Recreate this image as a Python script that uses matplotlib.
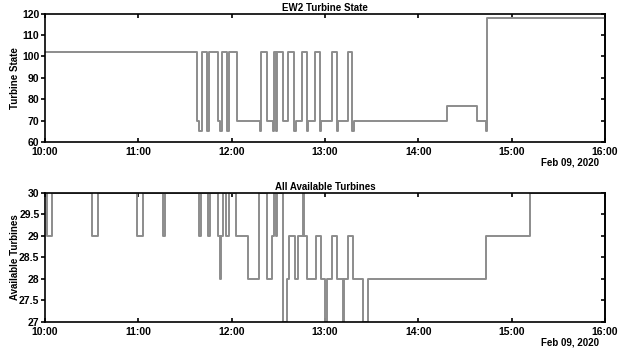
import numpy as np
import pandas as pd
import matplotlib
matplotlib.use('Agg')
import matplotlib.pyplot as plt
import matplotlib.dates as mdates

plt.rcParams['font.family'] = ['Liberation Sans', 'DejaVu Sans']
plt.rcParams['font.weight'] = 'bold'

# minutes after 10:00 on Feb 09, 2020 where the value changes
state_min = [0, 97.9, 99.0, 101.2, 104.0, 105.7, 111.3, 112.2, 113.6, 116.9,
             118.5, 123.7, 138.3, 138.9, 142.6, 146.6, 147.3, 148.6, 149.2,
             153.3, 156.5, 160.3, 161.1, 165.5, 168.3, 169.1, 173.6, 176.9,
             177.7, 184.6, 187.6, 188.4, 194.9, 197.6, 198.4, 258.3, 277.6,
             283.4, 283.9, 360]
state_val = [102, 70, 65, 102, 65, 102, 70, 65, 102, 65,
             102, 70, 65, 102, 70, 65, 102, 65, 102,
             70, 102, 65, 70, 102, 65, 70, 102, 65,
             70, 102, 65, 70, 102, 65, 70, 77, 70,
             65, 118, 118]

avail_min = [0, 1.1, 4.3, 30.0, 33.9, 59.4, 62.8, 76.1, 77.2, 99.2, 100.1,
             104.8, 105.9, 111.4, 112.2, 112.9, 114.7, 116.4, 118.5, 122.8,
             130.4, 137.8, 142.6, 145.8, 147.3, 148.2, 149.0, 152.9, 155.4,
             157.1, 160.8, 162.5, 165.6, 166.6, 168.3, 174.1, 177.3, 180.1,
             181.0, 184.8, 188.0, 191.4, 192.5, 195.1, 198.3, 204.7, 207.9,
             283.4, 311.9, 360]
avail_val = [30, 29, 30, 29, 30, 29, 30, 29, 30, 29, 30,
             29, 30, 29, 28, 29, 30, 29, 30, 29,
             28, 30, 28, 29, 30, 29, 30, 27, 28,
             29, 28, 29, 30, 29, 28, 29, 28, 27,
             28, 29, 28, 27, 28, 29, 28, 27, 28,
             29, 30, 30]

base = pd.Timestamp('2020-02-09 10:00')
t_state = base + pd.to_timedelta(state_min, unit='m')
t_avail = base + pd.to_timedelta(avail_min, unit='m')

fig = plt.figure(figsize=(6.25, 3.49), dpi=100)
ax1 = fig.add_axes([0.072, 0.593, 0.896, 0.368])
ax2 = fig.add_axes([0.072, 0.078, 0.896, 0.370])

gray = '#8c8c8c'
ax1.plot(t_state, state_val, drawstyle='steps-post', color=gray, lw=1.4)
ax2.plot(t_avail, avail_val, drawstyle='steps-post', color=gray, lw=1.4)


def style(ax, title, ylabel, ticks, labels):
    ax.set_xlim(base, base + pd.Timedelta(hours=6))
    ax.set_yticks(ticks)
    ax.set_yticklabels(labels)
    ax.xaxis.set_major_locator(mdates.HourLocator())
    ax.xaxis.set_major_formatter(mdates.DateFormatter('%H:%M'))
    ax.tick_params(axis='x', direction='in', top=True, length=3, width=1.2,
                   labelsize=7.5, pad=3.5)
    ax.tick_params(axis='y', direction='out', length=3, width=1.2,
                   labelsize=7.5, pad=1)
    # inward ticks on the right side, no labels
    right = ax.secondary_yaxis('right')
    right.set_yticks(ticks)
    right.tick_params(direction='in', length=3, width=1.2, labelright=False)
    right.spines['right'].set_linewidth(1.2)
    for s in ax.spines.values():
        s.set_linewidth(1.2)
    ax.set_title(title, fontsize=7, fontweight='bold', pad=2)
    ax.set_ylabel(ylabel, fontsize=7, fontweight='bold')
    ax.yaxis.set_label_coords(-0.045, 0.5)
    for lbl in ax.get_xticklabels() + ax.get_yticklabels():
        lbl.set_fontweight('bold')
    ax.text(0.99, -0.16, 'Feb 09, 2020', transform=ax.transAxes,
            ha='right', va='center', fontsize=7, fontweight='bold')


ax1.set_ylim(60, 120)
style(ax1, 'EW2 Turbine State', 'Turbine State',
      [60, 70, 80, 90, 100, 110, 120],
      ['60', '70', '80', '90', '100', '110', '120'])

ax2.set_ylim(27, 30)
style(ax2, 'All Available Turbines', 'Available Turbines',
      [27, 27.5, 28, 28.5, 29, 29.5, 30],
      ['27', '27.5', '28', '28.5', '29', '29.5', '30'])

fig.savefig('out.png', dpi=100)
